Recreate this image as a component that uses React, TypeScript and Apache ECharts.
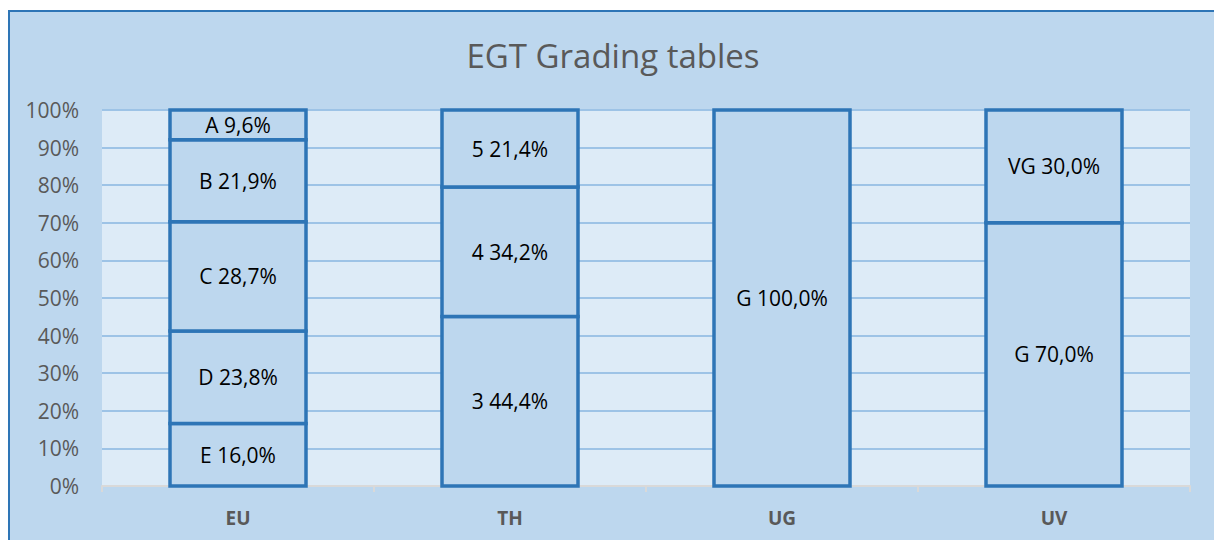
import React, { useEffect, useRef } from "react";
import * as echarts from "echarts";

const titleText = "EGT Grading tables";
const categories = ["EU", "TH", "UG", "UV"];

// grade names, the percentages printed in the labels, and the segment heights
const euGrades = ["E", "D", "C", "B", "A"];
const euLabels = [16.0, 23.8, 28.7, 21.9, 9.6];
const euHeights = [16.6, 24.6, 29.1, 21.8, 7.9];
const thGrades = ["3", "4", "5"];
const thLabels = [44.4, 34.2, 21.4];
const thHeights = [45.1, 34.4, 20.5];
const ugGrades = ["G"];
const ugLabels = [100.0];
const ugHeights = [100.0];
const uvGrades = ["G", "VG"];
const uvLabels = [70.0, 30.0];
const uvHeights = [70.0, 30.0];

const yTicks = { min: 0, max: 100, interval: 10 };

const groups = [
  { grades: euGrades, labels: euLabels, heights: euHeights },
  { grades: thGrades, labels: thLabels, heights: thHeights },
  { grades: ugGrades, labels: ugLabels, heights: ugHeights },
  { grades: uvGrades, labels: uvLabels, heights: uvHeights },
];

const fmt = (v: number) => v.toFixed(1).replace(".", ",") + "%";

export default function App() {
  const ref = useRef<HTMLDivElement>(null);
  useEffect(() => {
    if (!ref.current) return;
    const chart = echarts.init(ref.current, null, { renderer: "svg" });
    const segs: { cat: number; start: number; end: number; label: string }[] = [];
    groups.forEach((g, ci) => {
      let acc = 0;
      g.heights.forEach((v, i) => {
        segs.push({ cat: ci, start: acc, end: acc + v, label: g.grades[i] + " " + fmt(g.labels[i]) });
        acc += v;
      });
    });
    chart.setOption({
      animation: false,
      backgroundColor: "#BDD7EE",
      textStyle: { fontFamily: "Open Sans" },
      graphic: [
        { type: "rect", shape: { x: 0, y: 0, width: 1214, height: 10 }, style: { fill: "#ffffff" }, silent: true },
        { type: "rect", shape: { x: 0, y: 0, width: 8, height: 540 }, style: { fill: "#ffffff" }, silent: true },
        { type: "line", shape: { x1: 8, y1: 11, x2: 1214, y2: 11 }, style: { stroke: "#2E75B6", lineWidth: 2 } },
        { type: "line", shape: { x1: 9, y1: 10, x2: 9, y2: 540 }, style: { stroke: "#2E75B6", lineWidth: 2 } },
        {
          type: "text",
          x: 613,
          y: 55,
          style: {
            text: titleText,
            fill: "#595959",
            font: "33px 'Open Sans'",
            textAlign: "center",
            textVerticalAlign: "middle",
          },
        },
      ],
      grid: {
        left: 102,
        right: 24,
        top: 110,
        bottom: 54,
        show: true,
        backgroundColor: "#DDEBF7",
        borderWidth: 0,
      },
      xAxis: {
        type: "category",
        data: categories,
        axisLine: { lineStyle: { color: "#D9D9D9", width: 2 } },
        axisTick: { show: true, length: 6, lineStyle: { color: "#D9D9D9", width: 2 } },
        axisLabel: { color: "#595959", fontSize: 19, fontWeight: "bold", margin: 22, fontFamily: "Open Sans" },
      },
      yAxis: {
        type: "value",
        min: yTicks.min,
        max: yTicks.max,
        interval: yTicks.interval,
        axisLine: { show: false },
        axisTick: { show: false },
        axisLabel: { color: "#595959", fontSize: 21, margin: 23, formatter: "{value}%", fontFamily: "Open Sans" },
        splitLine: { lineStyle: { color: "#9DC3E6", width: 2 } },
      },
      series: [
        {
          type: "custom",
          encode: { x: 0, y: [1, 2] },
          data: segs.map((s) => [s.cat, s.start, s.end]),
          renderItem: (params: any, api: any) => {
            const ci = api.value(0);
            const p0 = api.coord([ci, api.value(1)]);
            const p1 = api.coord([ci, api.value(2)]);
            const bw = api.size([1, 0])[0] * 0.5;
            const seg = segs[params.dataIndex];
            return {
              type: "group",
              children: [
                {
                  type: "rect",
                  shape: { x: p0[0] - bw / 2, y: p1[1], width: bw, height: p0[1] - p1[1] },
                  style: { fill: "#BDD7EE", stroke: "#2E75B6", lineWidth: 3.5 },
                },
                {
                  type: "text",
                  x: p0[0],
                  y: (p0[1] + p1[1]) / 2,
                  style: {
                    text: seg.label,
                    fill: "#000000",
                    font: "21px 'Open Sans'",
                    textAlign: "center",
                    textVerticalAlign: "middle",
                  },
                },
              ],
            };
          },
        },
      ],
    });
    return () => chart.dispose();
  }, []);
  return (
    <div
      ref={ref}
      style={{ position: "fixed", left: 0, top: 0, width: 1214, height: 540 }}
    />
  );
}
